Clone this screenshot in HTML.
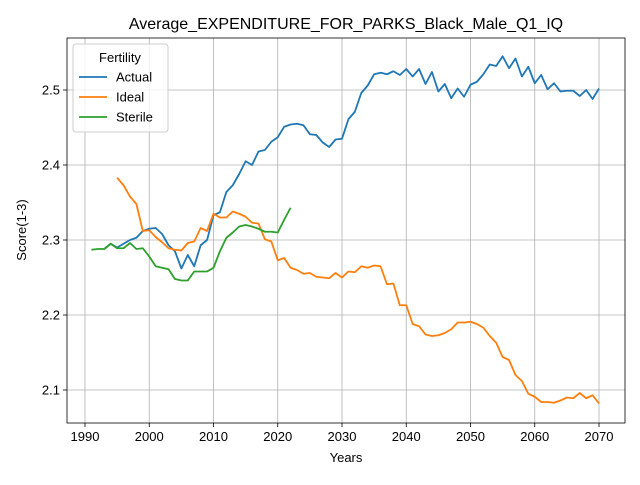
<!DOCTYPE html>
<html><head><meta charset="utf-8"><style>body{margin:0;background:#fff}svg{font-family:"Liberation Sans","DejaVu Sans",sans-serif}</style></head>
<body>
<svg id="chart" width="640" height="480" xmlns="http://www.w3.org/2000/svg"></svg>
<script>
const actualYears=[1993,2070];
const actual=[2.288,2.295,2.290,2.295,2.300,2.303,2.312,2.315,2.316,2.308,2.293,2.285,2.262,2.280,2.265,2.293,2.300,2.333,2.337,2.364,2.373,2.388,2.405,2.400,2.418,2.420,2.431,2.437,2.451,2.454,2.455,2.453,2.441,2.440,2.430,2.424,2.434,2.435,2.461,2.471,2.496,2.506,2.521,2.523,2.521,2.525,2.520,2.528,2.518,2.528,2.508,2.524,2.498,2.508,2.489,2.502,2.491,2.507,2.511,2.521,2.534,2.532,2.545,2.529,2.542,2.518,2.531,2.509,2.520,2.501,2.509,2.498,2.499,2.499,2.492,2.500,2.488,2.502];
const idealStart=1995;
const ideal=[2.383,2.373,2.358,2.348,2.312,2.313,2.304,2.297,2.289,2.287,2.286,2.296,2.298,2.316,2.312,2.335,2.330,2.330,2.338,2.335,2.331,2.323,2.322,2.301,2.298,2.273,2.276,2.263,2.260,2.255,2.256,2.251,2.250,2.249,2.256,2.250,2.258,2.257,2.265,2.263,2.266,2.265,2.241,2.242,2.213,2.213,2.188,2.185,2.174,2.172,2.173,2.176,2.181,2.190,2.190,2.191,2.188,2.183,2.172,2.163,2.144,2.140,2.120,2.112,2.095,2.091,2.084,2.084,2.083,2.086,2.090,2.089,2.096,2.089,2.093,2.082];
const sterileStart=1991;
const sterile=[2.287,2.288,2.288,2.295,2.289,2.289,2.296,2.288,2.289,2.278,2.265,2.263,2.261,2.248,2.246,2.246,2.258,2.258,2.258,2.263,2.285,2.303,2.310,2.318,2.320,2.318,2.315,2.311,2.311,2.310,2.327,2.343];
const xTicks=[1990,2000,2010,2020,2030,2040,2050,2060,2070];
const yTicks=[2.1,2.2,2.3,2.4,2.5];
const L=67,R=625,T=38,B=423;
const sx=y=>85+(y-1990)*(599-85)/80;
const sy=v=>390-(v-2.1)*750;
const svg=document.getElementById('chart');
const NS='http://www.w3.org/2000/svg';
function mk(t,a,p){const e=document.createElementNS(NS,t);for(const k in a)e.setAttribute(k,a[k]);(p||svg).appendChild(e);return e;}
function txt(s,a){const e=mk('text',a);e.textContent=s;return e;}
const grid=mk('g',{});


xTicks.forEach(t=>{const x=sx(t);
 mk('line',{x1:x,x2:x,y1:T,y2:B,stroke:'#b0b0b0','stroke-width':0.8},grid);
 mk('line',{x1:x,x2:x,y1:B,y2:B+4,stroke:'#000','stroke-width':0.8});
 const e=txt(t,{x:x,y:B+18,'font-size':13,'text-anchor':'middle'});
 
 });
yTicks.forEach(t=>{const y=sy(t);
 mk('line',{x1:L,x2:R,y1:y,y2:y,stroke:'#b0b0b0','stroke-width':0.8},grid);
 mk('line',{x1:L-4,x2:L,y1:y,y2:y,stroke:'#000','stroke-width':0.8});
 const e=txt(t.toFixed(1),{x:L-7,y:y+4.5,'font-size':13,'text-anchor':'end'});
 
 });
function line(start,vals,color,name){
 const pts=vals.map((v,i)=>sx(start+i).toFixed(2)+','+sy(v).toFixed(2)).join(' ');
 const p=mk('polyline',{points:pts,fill:'none',stroke:color,'stroke-width':1.8,'stroke-linejoin':'round'});
 
 }
line(actualYears[0],actual,'#1f77b4','actual-line');
line(idealStart,ideal,'#ff7f0e','ideal-line');
line(sterileStart,sterile,'#2ca02c','sterile-line');
const fr=mk('rect',{x:L,y:T,width:R-L,height:B-T,fill:'none',stroke:'#000','stroke-width':0.8});


let e=txt('Average_EXPENDITURE_FOR_PARKS_Black_Male_Q1_IQ',{x:346,y:29,'font-size':16,'text-anchor':'middle'});


e=txt('Years',{x:346,y:462,'font-size':13,'text-anchor':'middle'});


e=txt('Score(1-3)',{x:26,y:230,'font-size':13,'text-anchor':'middle',transform:'rotate(-90 26 230)'});


const lg=mk('g',{});


mk('rect',{x:73,y:44,width:95,height:88,rx:3,fill:'#fff','fill-opacity':0.8,stroke:'#ccc'},lg);
const lt=txt('Fertility',{x:120,y:62,'font-size':13,'text-anchor':'middle'});lg.appendChild(lt);
[['Actual','#1f77b4'],['Ideal','#ff7f0e'],['Sterile','#2ca02c']].forEach((d,i)=>{
 const y=77+i*20;
 const g=mk('g',{},lg);
 
 
 mk('line',{x1:79,x2:107,y1:y,y2:y,stroke:d[1],'stroke-width':1.8},g);
 const t=txt(d[0],{x:116,y:y+4.5,'font-size':13});g.appendChild(t);});
</script>
</body></html>
